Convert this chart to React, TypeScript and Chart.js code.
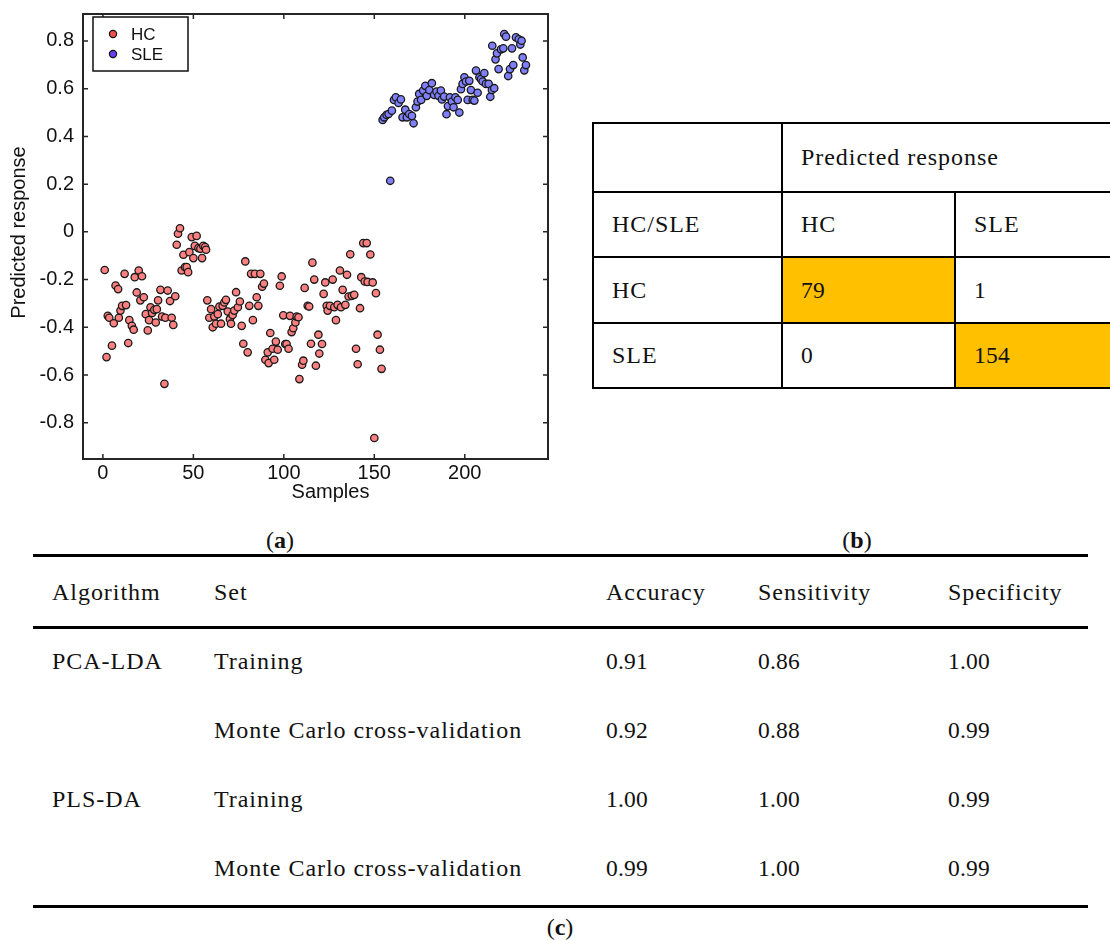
import React, { useEffect, useRef } from "react";
import { Chart, registerables } from "chart.js";

Chart.register(...registerables);

// ---------- data: panel (a) scatter ----------
const hcSamples = [
  1, 2, 2.7, 3.5, 5, 6, 7, 8.4, 8.8, 9.7, 10.6, 12, 12.8, 14, 14.6, 16, 17, 17.6, 18.7, 19.8,
  20.7, 21.6, 22.6, 23.7, 24.8, 25.5, 26.3, 27.2, 28.4, 29.2, 29.8, 30.5, 31.8, 32.7, 34, 34.5, 35.8, 37.1, 38, 38.9,
  40, 40.8, 41.5, 42.6, 43.5, 44.5, 45.4, 46.3, 47.1, 47.8, 49.1, 50, 50.8, 51.8, 52.8, 53.9, 54.8, 55.5, 56.5, 57,
  57.7, 58.8, 59.8, 60.7, 61.6, 62.5, 63.5, 64.4, 65.3, 66.2, 67.1, 68, 69, 70.2, 70.8, 71.7, 72.6, 73.6, 74.6, 75.7,
  76.7, 77.6, 78.7, 80, 80.9, 81.9, 82.9, 84, 85, 85.9, 87, 88, 89, 89.8, 91.1, 91.6, 92.5, 93.8, 94.7, 95.6,
  96.6, 97.8, 98.8, 99.7, 100.8, 101.5, 102.6, 103.4, 104.3, 105.2, 106.4, 107.1, 108.1, 108.6, 110.1, 110.8, 111.5, 113.2, 114, 115,
  115.8, 116.8, 117.7, 119.1, 119.6, 121.1, 122, 122.9, 123.7, 124.2, 125.5, 127, 127.9, 128.8, 129.7, 131, 131.6, 132.5, 134, 134.9,
  135.8, 136.7, 137.6, 138.9, 139.9, 140.8, 142.1, 142.8, 143.9, 144.7, 145.8, 146.3, 147.8, 149.1, 150, 150.9, 151.8, 153.1, 154,
];
const hcResponse = [
  -0.16, -0.525, -0.352, -0.36, -0.477, -0.383, -0.225, -0.24, -0.36, -0.33, -0.31, -0.176, -0.307, -0.466, -0.37, -0.394, -0.41, -0.19, -0.254, -0.162,
  -0.287, -0.186, -0.274, -0.345, -0.413, -0.37, -0.316, -0.34, -0.327, -0.38, -0.324, -0.287, -0.243, -0.355, -0.637, -0.36, -0.246, -0.29, -0.36, -0.39,
  -0.27, -0.054, -0.008, 0.015, -0.162, -0.096, -0.148, -0.148, -0.169, -0.085, -0.022, -0.11, -0.059, -0.017, -0.068, -0.071, -0.11, -0.059, -0.064, -0.075,
  -0.287, -0.36, -0.324, -0.4, -0.355, -0.385, -0.345, -0.313, -0.385, -0.31, -0.296, -0.285, -0.334, -0.366, -0.385, -0.348, -0.33, -0.253, -0.316, -0.292,
  -0.394, -0.469, -0.124, -0.505, -0.31, -0.176, -0.37, -0.176, -0.274, -0.31, -0.176, -0.23, -0.217, -0.536, -0.505, -0.55, -0.424, -0.49, -0.536, -0.46,
  -0.494, -0.226, -0.187, -0.35, -0.47, -0.47, -0.49, -0.352, -0.42, -0.404, -0.38, -0.355, -0.358, -0.617, -0.557, -0.54, -0.235, -0.31, -0.313, -0.469,
  -0.129, -0.2, -0.561, -0.431, -0.51, -0.47, -0.26, -0.212, -0.31, -0.33, -0.31, -0.2, -0.316, -0.37, -0.306, -0.162, -0.316, -0.243, -0.306, -0.18,
  -0.271, -0.094, -0.268, -0.264, -0.49, -0.555, -0.32, -0.19, -0.047, -0.208, -0.047, -0.21, -0.095, -0.212, -0.864, -0.257, -0.431, -0.494, -0.574,
];
const sleSamples = [
  154.6, 155.5, 156.8, 157.9, 158.8, 159.7, 160.9, 161.9, 163.4, 164.7, 165.6, 167.1, 168, 169.3, 170.8, 171.7, 173, 173.9, 174.8, 175.9,
  177, 178.2, 179, 180.4, 181.8, 183.1, 184.4, 185.5, 186.8, 187.4, 188.6, 189.9, 190.7, 191.8, 192.9, 193.8, 194.8, 196.1, 197, 197.9,
  198.8, 199.8, 200.7, 201.6, 202.5, 203.4, 204.4, 205.3, 206.2, 207.1, 208.1, 209, 209.9, 210.8, 211.7, 213.2, 214.1, 215, 215.2, 216.3,
  217, 217.8, 218.7, 220, 221.3, 221.8, 222.8, 224, 225, 226.1, 226.8, 228.3, 229.8, 230.7, 231.4, 232, 232.9, 233.8,
];
const sleResponse = [
  0.469, 0.48, 0.49, 0.494, 0.214, 0.508, 0.553, 0.564, 0.54, 0.555, 0.48, 0.512, 0.48, 0.494, 0.486, 0.455, 0.522, 0.546, 0.578, 0.553,
  0.592, 0.612, 0.57, 0.594, 0.623, 0.574, 0.588, 0.57, 0.592, 0.555, 0.567, 0.493, 0.527, 0.564, 0.546, 0.522, 0.564, 0.553, 0.5, 0.598,
  0.62, 0.648, 0.63, 0.553, 0.633, 0.594, 0.553, 0.55, 0.676, 0.583, 0.648, 0.64, 0.63, 0.665, 0.62, 0.62, 0.566, 0.595, 0.78, 0.602,
  0.723, 0.748, 0.682, 0.765, 0.769, 0.829, 0.818, 0.653, 0.682, 0.769, 0.699, 0.815, 0.807, 0.785, 0.801, 0.731, 0.677, 0.699,
];
const xTicks = [0, 50, 100, 150, 200];
const yTicks = [-0.8, -0.6, -0.4, -0.2, 0, 0.2, 0.4, 0.6, 0.8];
const xRange = [-11, 246];
const yRange = [-0.952, 0.913];
const seriesNames = ["HC", "SLE"];
const xTitle = "Samples";
const yTitle = "Predicted response";

// ---------- data: panel (b) confusion table ----------
const classLabels = ["HC", "SLE"];
const confusion = [
  [79, 1],
  [0, 154],
];
const confHeader = "Predicted response";
const confCorner = "HC/SLE";

// ---------- data: panel (c) metrics table ----------
const metricHeaders = ["Algorithm", "Set", "Accuracy", "Sensitivity", "Specificity"];
const algorithms = ["PCA-LDA", "", "PLS-DA", ""];
const sets = ["Training", "Monte Carlo cross-validation", "Training", "Monte Carlo cross-validation"];
const accuracy = ["0.91", "0.92", "1.00", "0.99"];
const sensitivity = ["0.86", "0.88", "1.00", "1.00"];
const specificity = ["1.00", "0.99", "0.99", "0.99"];

const HC_FILL = "#ff8080";
const SLE_FILL = "#8080ff";
const LEG_HC = "#f0504a";
const LEG_SLE = "#6a40f0";
const SANS = '"Liberation Sans", Arial, sans-serif';
const SERIF = '"Liberation Serif", "Times New Roman", serif';

const framePlugin = {
  id: "matlabFrame",
  afterDraw(chart: any) {
    const { ctx, chartArea: a, scales } = chart;
    const xs = scales.x;
    const ys = scales.y;
    ctx.save();
    ctx.strokeStyle = "#262626";
    ctx.lineWidth = 2;
    ctx.strokeRect(a.left, a.top, a.right - a.left, a.bottom - a.top);
    ctx.lineWidth = 1.5;
    const L = 5;
    ctx.beginPath();
    xs.ticks.forEach((t: any) => {
      const px = xs.getPixelForValue(t.value);
      ctx.moveTo(px, a.bottom);
      ctx.lineTo(px, a.bottom - L);
      ctx.moveTo(px, a.top);
      ctx.lineTo(px, a.top + L);
    });
    ys.ticks.forEach((t: any) => {
      const py = ys.getPixelForValue(t.value);
      ctx.moveTo(a.left, py);
      ctx.lineTo(a.left + L, py);
      ctx.moveTo(a.right, py);
      ctx.lineTo(a.right - L, py);
    });
    ctx.stroke();

    // axis titles
    ctx.fillStyle = "#111";
    ctx.font = `20px ${SANS}`;
    ctx.textAlign = "center";
    ctx.textBaseline = "middle";
    ctx.fillText(xTitle, (a.left + a.right) / 2 + 15, a.bottom + 33);
    ctx.save();
    ctx.translate(19, (a.top + a.bottom) / 2 - 4);
    ctx.rotate(-Math.PI / 2);
    ctx.fillText(yTitle, 0, 0);
    ctx.restore();

    // legend box
    const bx = a.left + 10;
    const by = a.top + 3;
    ctx.fillStyle = "#fff";
    ctx.fillRect(bx, by, 95, 54);
    ctx.strokeStyle = "#111";
    ctx.lineWidth = 1.5;
    ctx.strokeRect(bx, by, 95, 54);
    const legColors = [LEG_HC, LEG_SLE];
    seriesNames.forEach((name, i) => {
      const cy = by + 17 + i * 20;
      ctx.beginPath();
      ctx.arc(bx + 20, cy, 3.6, 0, Math.PI * 2);
      ctx.fillStyle = legColors[i];
      ctx.fill();
      ctx.lineWidth = 1.2;
      ctx.strokeStyle = "#111";
      ctx.stroke();
      ctx.fillStyle = "#111";
      ctx.font = `17px ${SANS}`;
      ctx.textAlign = "left";
      ctx.textBaseline = "middle";
      ctx.fillText(name, bx + 38, cy + 1);
    });
    ctx.restore();
  },
};

function ScatterPanel() {
  const ref = useRef<HTMLCanvasElement | null>(null);
  useEffect(() => {
    if (!ref.current) return;
    const toPts = (xs: number[], ys: number[]) => xs.map((x, i) => ({ x, y: ys[i] }));
    const chart = new Chart(ref.current, {
      type: "scatter",
      data: {
        datasets: [
          {
            label: seriesNames[0],
            data: toPts(hcSamples, hcResponse),
            backgroundColor: HC_FILL,
            borderColor: "#1a1a1a",
            borderWidth: 1.3,
            pointRadius: 3.7,
          },
          {
            label: seriesNames[1],
            data: toPts(sleSamples, sleResponse),
            backgroundColor: SLE_FILL,
            borderColor: "#1a1a1a",
            borderWidth: 1.3,
            pointRadius: 3.7,
          },
        ],
      },
      options: {
        responsive: false,
        animation: false,
        layout: { padding: { left: 0, top: 14, right: 12, bottom: 0 } },
        plugins: { legend: { display: false }, tooltip: { enabled: false } },
        scales: {
          x: {
            type: "linear",
            min: xRange[0],
            max: xRange[1],
            grid: { display: false, drawTicks: false },
            border: { display: false },
            afterBuildTicks: (s: any) => {
              s.ticks = xTicks.map((v) => ({ value: v }));
            },
            afterFit: (s: any) => {
              s.height = 51;
              s.paddingLeft = 0;
              s.paddingRight = 0;
            },
            ticks: {
              padding: 2,
              color: "#111",
              font: { family: SANS, size: 20 },
              callback: (v: any) => String(v),
              maxRotation: 0,
            },
          },
          y: {
            type: "linear",
            min: yRange[0],
            max: yRange[1],
            grid: { display: false, drawTicks: false },
            border: { display: false },
            afterBuildTicks: (s: any) => {
              s.ticks = yTicks.map((v) => ({ value: v }));
            },
            afterFit: (s: any) => {
              s.width = 83;
              s.paddingTop = 0;
              s.paddingBottom = 0;
            },
            ticks: {
              padding: 9,
              color: "#111",
              font: { family: SANS, size: 20 },
              callback: (v: any) => (Math.abs(v) < 1e-9 ? "0" : Number(v).toFixed(1)),
            },
          },
        },
      },
      plugins: [framePlugin],
    });
    return () => chart.destroy();
  }, []);
  return (
    <canvas
      ref={ref}
      width={560}
      height={510}
      style={{ position: "absolute", left: 0, top: 0, width: 560, height: 510 }}
    />
  );
}

const wordStyle: React.CSSProperties = {
  position: "absolute",
  fontFamily: SERIF,
  fontSize: 24,
  letterSpacing: "0.04em",
  color: "#111",
  whiteSpace: "nowrap",
};
const numStyle: React.CSSProperties = { ...wordStyle, fontSize: 23.5, letterSpacing: "0.01em" };

function Cell({ x, y, h, text, num }: { x: number; y: number; h: number; text: string; num?: boolean }) {
  return (
    <div style={{ ...(num ? numStyle : wordStyle), left: x, top: y, height: h, lineHeight: `${h}px` }}>{text}</div>
  );
}

function Line({ x, y, w, h }: { x: number; y: number; w: number; h: number }) {
  return <div style={{ position: "absolute", left: x, top: y, width: w, height: h, background: "#000" }} />;
}

function ConfusionPanel() {
  const cols = [593, 782, 955, 1125];
  const rows = [123, 192, 257, 323, 388];
  const T = 2.5;
  const pad = 19;
  const items: React.ReactNode[] = [];
  // highlighted diagonal
  confusion.forEach((r, i) =>
    r.forEach((_, j) => {
      if (i === j) {
        items.push(
          <div
            key={`y${i}`}
            style={{
              position: "absolute",
              left: cols[j + 1],
              top: rows[i + 2],
              width: cols[j + 2] - cols[j + 1],
              height: rows[i + 3] - rows[i + 2],
              background: "#ffc000",
            }}
          />
        );
      }
    })
  );
  rows.forEach((y, i) => items.push(<Line key={`h${i}`} x={cols[0] - T / 2} y={y - T / 2} w={cols[3] - cols[0]} h={T} />));
  items.push(<Line key="v0" x={cols[0] - T / 2} y={rows[0] - T / 2} w={T} h={rows[4] - rows[0] + T} />);
  items.push(<Line key="v1" x={cols[1] - T / 2} y={rows[0] - T / 2} w={T} h={rows[4] - rows[0] + T} />);
  items.push(<Line key="v2" x={cols[2] - T / 2} y={rows[1] - T / 2} w={T} h={rows[4] - rows[1] + T} />);
  items.push(<Cell key="hd" x={cols[1] + pad} y={rows[0]} h={rows[1] - rows[0]} text={confHeader} />);
  items.push(<Cell key="cn" x={cols[0] + pad} y={rows[1]} h={rows[2] - rows[1]} text={confCorner} />);
  classLabels.forEach((c, j) =>
    items.push(<Cell key={`c${j}`} x={cols[j + 1] + pad} y={rows[1]} h={rows[2] - rows[1]} text={c} />)
  );
  classLabels.forEach((c, i) => {
    items.push(<Cell key={`r${i}`} x={cols[0] + pad} y={rows[i + 2]} h={rows[i + 3] - rows[i + 2]} text={c} />);
    confusion[i].forEach((v, j) =>
      items.push(
        <Cell key={`v${i}${j}`} x={cols[j + 1] + pad} y={rows[i + 2]} h={rows[i + 3] - rows[i + 2]} text={String(v)} num />
      )
    );
  });
  return <>{items}</>;
}

function MetricsPanel() {
  const colX = [52, 214, 606, 758, 948];
  const headerTop = 557;
  const headerH = 70;
  const rowTop = 627;
  const rowH = 69;
  const items: React.ReactNode[] = [];
  items.push(<Line key="l0" x={33} y={554} w={1055} h={3} />);
  items.push(<Line key="l1" x={33} y={626} w={1055} h={3} />);
  items.push(<Line key="l2" x={33} y={905} w={1055} h={3} />);
  metricHeaders.forEach((h, i) => items.push(<Cell key={`h${i}`} x={colX[i]} y={headerTop} h={headerH} text={h} />));
  sets.forEach((s, r) => {
    const y = rowTop + r * rowH;
    items.push(<Cell key={`a${r}`} x={colX[0]} y={y} h={rowH} text={algorithms[r]} />);
    items.push(<Cell key={`s${r}`} x={colX[1]} y={y} h={rowH} text={s} />);
    items.push(<Cell key={`ac${r}`} x={colX[2]} y={y} h={rowH} text={accuracy[r]} num />);
    items.push(<Cell key={`se${r}`} x={colX[3]} y={y} h={rowH} text={sensitivity[r]} num />);
    items.push(<Cell key={`sp${r}`} x={colX[4]} y={y} h={rowH} text={specificity[r]} num />);
  });
  return <>{items}</>;
}

function PanelLabel({ cx, cy, letter }: { cx: number; cy: number; letter: string }) {
  return (
    <div
      style={{
        position: "absolute",
        left: cx - 40,
        width: 80,
        top: cy - 15,
        height: 30,
        lineHeight: "30px",
        textAlign: "center",
        fontFamily: SERIF,
        fontSize: 24,
        color: "#111",
      }}
    >
      (<b>{letter}</b>)
    </div>
  );
}

export default function App() {
  return (
    <div
      style={{
        position: "absolute",
        left: 0,
        top: 0,
        width: 1110,
        height: 940,
        overflow: "hidden",
        background: "#fff",
      }}
    >
      <ScatterPanel />
      <ConfusionPanel />
      <MetricsPanel />
      <PanelLabel cx={280} cy={540} letter="a" />
      <PanelLabel cx={857} cy={540} letter="b" />
      <PanelLabel cx={560} cy={927} letter="c" />
    </div>
  );
}
